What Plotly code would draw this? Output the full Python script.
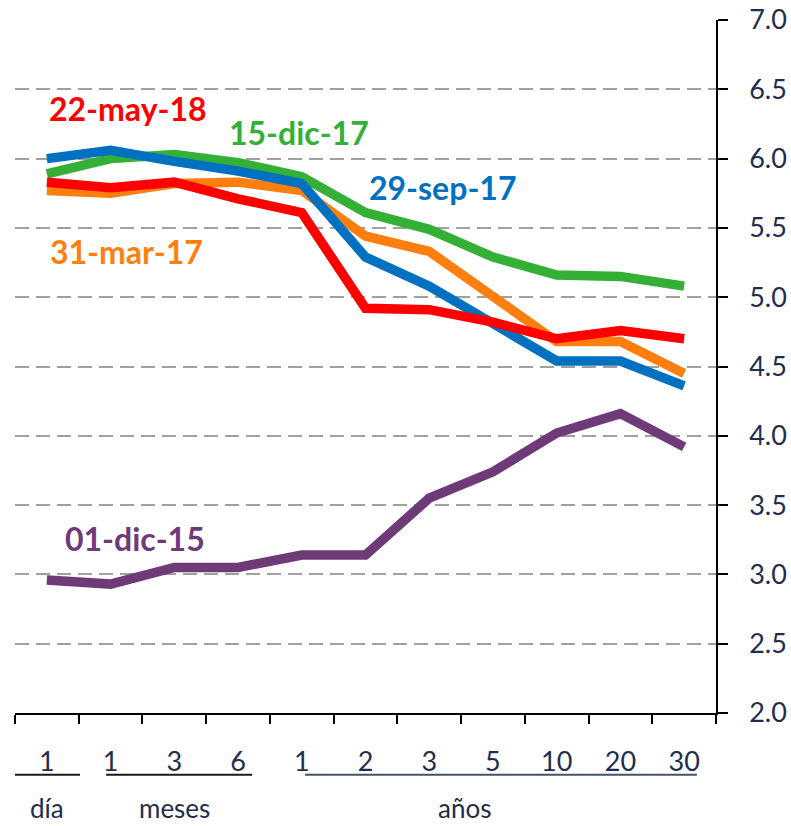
import plotly.graph_objects as go

# Plazos de la curva (posiciones en el eje X)
plazos = ["1", "1", "3", "6", "1", "2", "3", "5", "10", "20", "30"]

# Tasas por fecha (%)
tasa_01dic15 = [2.96, 2.93, 3.05, 3.05, 3.14, 3.14, 3.55, 3.74, 4.02, 4.16, 3.92]
tasa_31mar17 = [5.77, 5.75, 5.82, 5.83, 5.77, 5.44, 5.33, 5.00, 4.68, 4.68, 4.45]
tasa_15dic17 = [5.89, 6.00, 6.03, 5.97, 5.87, 5.61, 5.49, 5.29, 5.16, 5.15, 5.08]
tasa_29sep17 = [6.00, 6.06, 5.98, 5.91, 5.82, 5.29, 5.08, 4.80, 4.54, 4.54, 4.36]
tasa_22may18 = [5.83, 5.79, 5.83, 5.71, 5.61, 4.92, 4.91, 4.82, 4.70, 4.76, 4.70]

series = [
    ("01-dic-15", tasa_01dic15, "#6E3A78", 1.39, 3.26),
    ("31-mar-17", tasa_31mar17, "#FF7F0E", 1.25, 5.33),
    ("15-dic-17", tasa_15dic17, "#33B035", 3.96, 6.19),
    ("29-sep-17", tasa_29sep17, "#0070C0", 6.21, 5.79),
    ("22-may-18", tasa_22may18, "#FF0000", 1.28, 6.36),
]

xpos = list(range(len(plazos)))

fig = go.Figure()
annotations = []
for nombre, vals, color, ax, ay in series:
    fig.add_trace(go.Scatter(
        x=xpos, y=vals, mode="lines", name=nombre,
        line=dict(color=color, width=9.5, shape="linear"),
        showlegend=False, hoverinfo="skip",
    ))
    annotations.append(dict(
        x=ax, y=ay, xref="x", yref="y", text="<b>%s</b>" % nombre,
        showarrow=False, font=dict(family="Lato", size=32, color=color),
        xanchor="center", yanchor="middle",
    ))

# Grupos de plazos bajo el eje
grupos = [
    ("día", -0.5, 0.52, 0.0, "#1a1a1a"),
    ("meses", 0.93, 3.22, 2.0, "#1a1a1a"),
    ("años", 4.05, 10.2, 6.56, "#44546A"),
]
shapes = []
for texto, x0, x1, xc, lc in grupos:
    shapes.append(dict(type="line", xref="x", yref="paper",
                       x0=x0, x1=x1, y0=-0.089, y1=-0.089,
                       line=dict(color=lc, width=2)))
    annotations.append(dict(
        x=xc, y=-0.137, xref="x", yref="paper", text=texto,
        showarrow=False, font=dict(family="Lato", size=26, color="#1F2D4E"),
        xanchor="center", yanchor="middle",
    ))

fig.update_layout(
    width=791, height=826,
    margin=dict(l=15, r=75, t=20, b=113),
    paper_bgcolor="white", plot_bgcolor="white",
    annotations=annotations, shapes=shapes,
    xaxis=dict(
        range=[-0.5, 10.5], tickmode="array", tickvals=xpos, ticktext=plazos,
        ticks="", ticklabelstandoff=24, automargin=False,
        tickfont=dict(family="Lato", size=27, color="#1F2D4E"),
        showgrid=False, zeroline=False,
        showline=True, linecolor="black", linewidth=1.5,
        minor=dict(tickmode="array", tickvals=[i - 0.5 for i in range(12)],
                   ticks="outside", ticklen=9, tickcolor="black", tickwidth=1.5,
                   showgrid=False),
    ),
    yaxis=dict(
        range=[2.0, 7.0], side="right", tickmode="array", automargin=False,
        tickvals=[2.0, 2.5, 3.0, 3.5, 4.0, 4.5, 5.0, 5.5, 6.0, 6.5, 7.0],
        ticktext=["2.0", "2.5", "3.0", "3.5", "4.0", "4.5", "5.0", "5.5", "6.0", "6.5", "7.0"],
        ticks="outside", ticklen=10, tickcolor="black", tickwidth=1.5,
        ticklabelstandoff=16,
        tickfont=dict(family="Lato", size=27, color="#1F2D4E"),
        showgrid=True, gridcolor="#A0A0A0", gridwidth=2, griddash="14px,7px",
        zeroline=False, showline=True, linecolor="black", linewidth=1.5,
    ),
)

fig.write_html("out.html")
